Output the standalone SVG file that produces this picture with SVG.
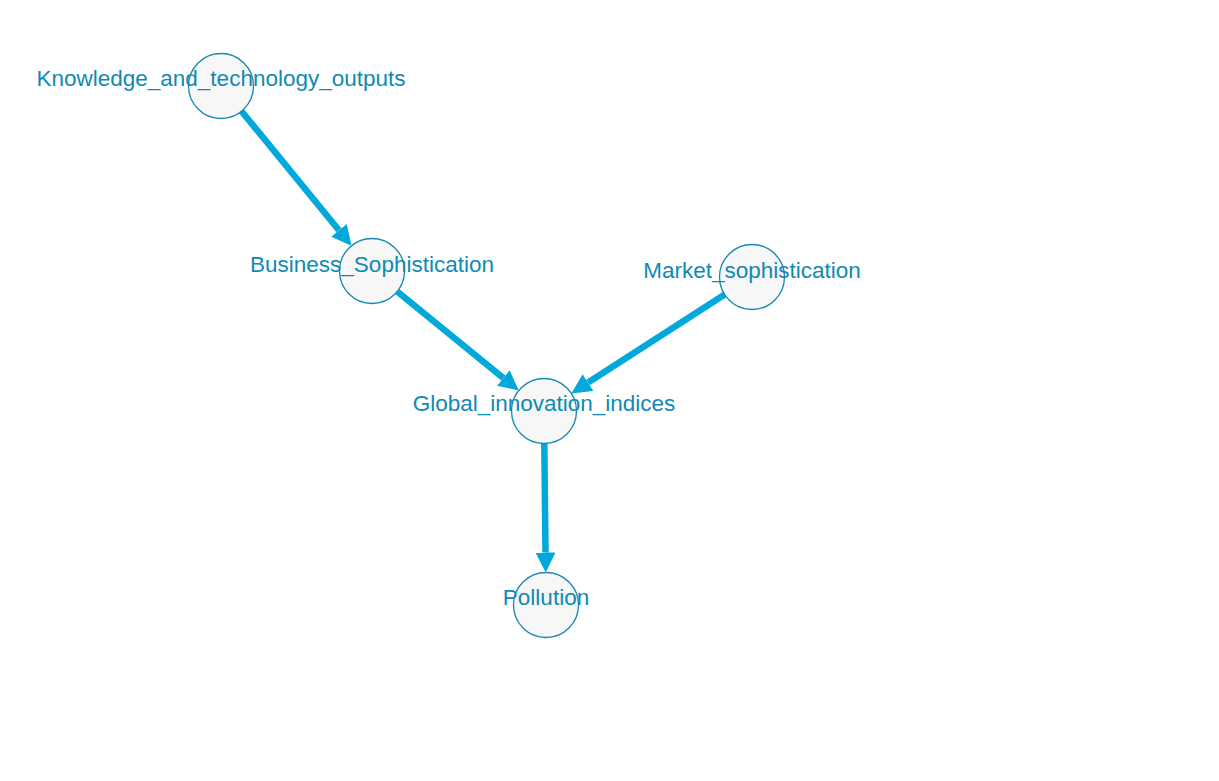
<svg xmlns="http://www.w3.org/2000/svg" width="1219" height="781" viewBox="0 0 1219 781">
<style>
.edge{stroke:#00a8dc;stroke-width:6.5;fill:none;marker-end:url(#arr)}
.node circle{fill:#f7f7f7;stroke:#1a88b0;stroke-width:1.3}
.node text{font-family:"Liberation Sans",Arial,sans-serif;font-size:22.5px;fill:#0f8ab3;text-anchor:middle}
</style>
<defs>
<marker id="arr" viewBox="0 0 20 20" refX="0" refY="10" markerWidth="20" markerHeight="20" markerUnits="userSpaceOnUse" orient="auto">
<path d="M0,0 L20,10 L0,20 z" fill="#00a8dc"/>
</marker>
</defs>
<rect width="1219" height="781" fill="#ffffff"/>
<g id="edges">
<path class="edge" d="M241.5,111.2 L338.9,230.3"/>
<path class="edge" d="M397.2,291.5 L503.3,377.9"/>
<path class="edge" d="M724.7,294.6 L588.1,382.6"/>
<path class="edge" d="M544.3,443.5 L545.5,552.5"/>
</g>
<g id="n_knowledge" class="node"><circle cx="221" cy="86" r="32.5"/><text x="221" y="86">Knowledge_and_technology_outputs</text></g>
<g id="n_business" class="node"><circle cx="372" cy="271" r="32.5"/><text x="372" y="272">Business_Sophistication</text></g>
<g id="n_market" class="node"><circle cx="752" cy="277" r="32.5"/><text x="752" y="278">Market_sophistication</text></g>
<g id="n_global" class="node"><circle cx="544" cy="411" r="32.5"/><text x="544" y="411">Global_innovation_indices</text></g>
<g id="n_pollution" class="node"><circle cx="546" cy="605" r="32.5"/><text x="546" y="605">Pollution</text></g>
</svg>
